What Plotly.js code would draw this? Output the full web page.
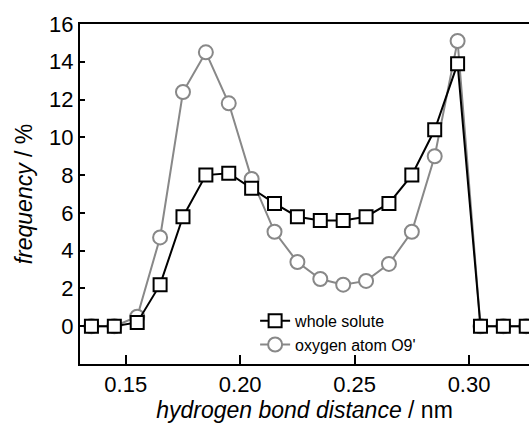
<!DOCTYPE html>
<html>
<head>
<meta charset="utf-8">
<script src="https://cdn.plot.ly/plotly-3.0.1.min.js"></script>
<style>html,body{margin:0;padding:0;background:#fff;}#chart{width:529px;height:430px;}</style>
</head>
<body>
<div id="chart"></div>
<script>
const distance = [0.135, 0.145, 0.155, 0.165, 0.175, 0.185, 0.195, 0.205, 0.215, 0.225,
                  0.235, 0.245, 0.255, 0.265, 0.275, 0.285, 0.295, 0.305, 0.315, 0.325];
const wholeSolute = [0, 0, 0.2, 2.2, 5.8, 8.0, 8.1, 7.3, 6.5, 5.8,
                     5.6, 5.6, 5.8, 6.5, 8.0, 10.4, 13.9, 0, 0, 0];
const oxygenO9 = [0, 0, 0.5, 4.7, 12.4, 14.5, 11.8, 7.8, 5.0, 3.4,
                  2.5, 2.2, 2.4, 3.3, 5.0, 9.0, 15.1, 0, 0, 0];
const seriesNames = ["whole solute", "oxygen atom O9'"];
const xTickVals = [0.15, 0.20, 0.25, 0.30];
const xTickText = ["0.15", "0.20", "0.25", "0.30"];
const yTickVals = [0, 2, 4, 6, 8, 10, 12, 14, 16];

const FONT = "Arial, 'Liberation Sans', sans-serif";

const traces = [
  {
    x: distance, y: oxygenO9, name: seriesNames[1], type: "scatter", mode: "lines+markers",
    line: {color: "#888888", width: 2},
    marker: {symbol: "circle", size: 14, color: "#ffffff", line: {color: "#888888", width: 2}}
  },
  {
    x: distance, y: wholeSolute, name: seriesNames[0], type: "scatter", mode: "lines+markers",
    line: {color: "#000000", width: 2},
    marker: {symbol: "square", size: 13, color: "#ffffff", line: {color: "#000000", width: 2}}
  }
];

const layout = {
  width: 529, height: 430,
  margin: {l: 80, r: 0, t: 24, b: 66},
  paper_bgcolor: "#ffffff", plot_bgcolor: "#ffffff",
  font: {family: FONT, color: "#000000", size: 22},
  showlegend: true,
  legend: {
    x: 0.39, y: 0.177, xanchor: "left", yanchor: "top",
    traceorder: "reversed", bgcolor: "rgba(0,0,0,0)",
    font: {family: FONT, size: 16, color: "#000000"},
    tracegroupgap: 0
  },
  xaxis: {
    range: [0.13, 0.3262],
    tickvals: xTickVals, ticktext: xTickText,
    ticks: "inside", ticklen: 9, tickwidth: 2, tickcolor: "#000",
    showline: true, linewidth: 2, linecolor: "#000", mirror: true,
    showgrid: false, zeroline: false,
    tickfont: {family: FONT, size: 22},
    title: {text: "<i>hydrogen bond distance</i> / nm", font: {family: FONT, size: 23}, standoff: 5}
  },
  yaxis: {
    range: [-2, 16],
    tickvals: yTickVals,
    ticks: "inside", ticklen: 5, tickwidth: 2, tickcolor: "#000",
    showline: true, linewidth: 2, linecolor: "#000", mirror: false,
    showgrid: false, zeroline: false,
    tickfont: {family: FONT, size: 22},
    title: {text: "<i>frequency</i> / %", font: {family: FONT, size: 23}, standoff: 10}
  }
};

Plotly.newPlot("chart", traces, layout, {staticPlot: true, displayModeBar: false});
</script>
</body>
</html>
